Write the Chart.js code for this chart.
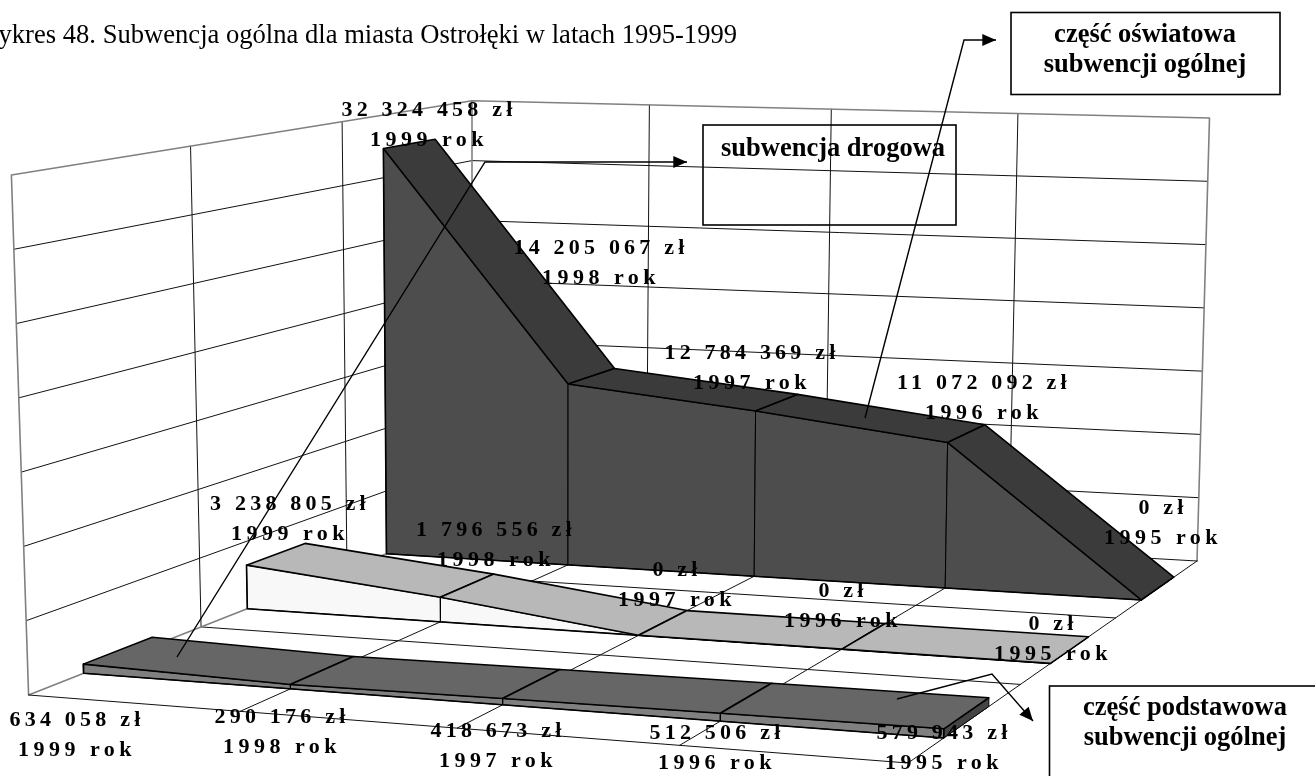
<!DOCTYPE html>
<html lang="pl">
<head>
<meta charset="utf-8">
<title>Subwencja ogólna</title>
<script src="https://cdn.jsdelivr.net/npm/chart.js@4"></script>
<style>
    html, body { margin: 0; padding: 0; background: #fff; overflow: hidden; }
    #wrap { position: relative; width: 1315px; height: 776px; }
</style>
</head>
<body>
<div id="wrap"><canvas id="chart"></canvas></div>
<script>
const years = ['1999', '1998', '1997', '1996', '1995'];
const oswiatowa = [32324458, 14205067, 12784369, 11072092, 0];
const podstawowa = [3238805, 1796556, 0, 0, 0];
const drogowa = [634058, 290176, 418673, 512506, 579943];
const zTicks = [0, 5000000, 10000000, 15000000, 20000000, 25000000, 30000000, 35000000];

// label anchors (centre, first baseline), one list per series
const oswiatowaLabels = [[429, 116], [601, 254], [752, 359], [984, 389], [1163, 514]];
const podstawowaLabels = [[290, 510], [496, 536], [677, 576], [843, 597], [1053, 630]];
const drogowaLabels = [[77, 726], [282, 723], [498, 737], [717, 739], [944, 739]];

// "camera": floor and ceiling corners of the 3D box
const floorBox = { fl: [28.6, 695], fr: [908, 763], br: [1197, 561], bl: [472, 520] };
const topBox = { fl: [11.4, 175], fr: [915, 195], br: [1209.5, 118], bl: [472, 100.7] };
const zMax = 35000000;

const lerp = (a, b, t) => [a[0] + (b[0] - a[0]) * t, a[1] + (b[1] - a[1]) * t];
// perspective foreshortening along each floor axis
const warp = (t, k) => k * t / (1 + (k - 1) * t);

function project(u, v, value) {
    const tu = warp(u, 0.95);
    const tv = warp(v, 1.273);
    const bottom = lerp(lerp(floorBox.fl, floorBox.fr, tu), lerp(floorBox.bl, floorBox.br, tu), tv);
    const top = lerp(lerp(topBox.fl, topBox.fr, tu), lerp(topBox.bl, topBox.br, tu), tv);
    const p = lerp(bottom, top, value / zMax);
    return { x: p[0], y: p[1] };
}

const datasets = [];

// the library paints lower "order" last, so later datasets go on top
function line(points, color, width) {
    datasets.push({
        data: points, showLine: true, pointRadius: 0, tension: 0, order: -datasets.length,
        borderColor: color, borderWidth: width, borderJoinStyle: 'round', borderCapStyle: 'round'
    });
}

function face(points, fill, color, width) {
    datasets.push({
        data: points.concat([points[0]]), showLine: true, pointRadius: 0, tension: 0, order: -datasets.length,
        borderColor: color, borderWidth: width, borderJoinStyle: 'round', faceColor: fill
    });
}

// walls and floor
const GRID = '#111';
const EDGE = '#808080';
const uTicks = years.map((y, i) => i / (years.length - 1));
const vTicks = [0, 1 / 3, 2 / 3, 1];

zTicks.slice(1, -1).forEach(z => {
    line([project(0, 0, z), project(0, 1, z)], GRID, 1);
    line([project(0, 1, z), project(1, 1, z)], GRID, 1);
});
vTicks.slice(1, -1).forEach(v => {
    line([project(0, v, 0), project(0, v, zMax)], GRID, 1);
    line([project(0, v, 0), project(1, v, 0)], GRID, 1);
});
uTicks.slice(1, -1).forEach(u => {
    line([project(u, 1, 0), project(u, 1, zMax)], GRID, 1);
    line([project(u, 0, 0), project(u, 1, 0)], GRID, 1);
});
line([project(1, 1, 0), project(1, 1, zMax), project(0, 1, zMax), project(0, 0, zMax), project(0, 0, 0), project(0, 1, 0)], EDGE, 1.6);
line([project(0, 1, 0), project(0, 1, zMax)], EDGE, 1.6);
line([project(0, 0, 0), project(1, 0, 0), project(1, 1, 0)], GRID, 1);
line([project(0, 1, 0), project(1, 1, 0)], GRID, 1);

// slabs, back to front
function slab(values, band, frontColor, topColor, sideColor) {
    const v0 = (band + 0.3) / 3;
    const v1 = (band + 0.7) / 3;
    const last = values.length - 1;
    for (let i = 0; i < last; i++) {
        face([project(uTicks[i], v0, 0), project(uTicks[i + 1], v0, 0), project(uTicks[i + 1], v0, values[i + 1]), project(uTicks[i], v0, values[i])], frontColor, '#000', 1);
    }
    face([project(1, v0, 0), project(1, v1, 0), project(1, v1, values[last]), project(1, v0, values[last])], sideColor, '#000', 1);
    line([project(0, v0, values[0]), project(0, v0, 0), project(1, v0, 0)], '#000', 1.6);
    for (let i = 0; i < last; i++) {
        face([project(uTicks[i], v0, values[i]), project(uTicks[i + 1], v0, values[i + 1]), project(uTicks[i + 1], v1, values[i + 1]), project(uTicks[i], v1, values[i])], topColor, '#000', 1.6);
    }
}
slab(oswiatowa, 2, '#4d4d4d', '#3b3b3b', '#3b3b3b');
slab(podstawowa, 1, '#f8f8f8', '#b8b8b8', '#b8b8b8');
slab(drogowa, 0, '#808080', '#666666', '#444444');

const SERIF = '"Liberation Serif", "Times New Roman", serif';

function kwota(n) {
    return String(n).replace(/\B(?=(\d{3})+$)/g, ' ') + ' zł';
}

function drawText(ctx, text, x, y, font, spacing, align) {
    ctx.font = font;
    ctx.letterSpacing = spacing;
    ctx.textAlign = align;
    ctx.textBaseline = 'alphabetic';
    ctx.fillStyle = '#000';
    ctx.fillText(text, x, y);
    ctx.letterSpacing = '0px';
}

function leader(ctx, pts) {
    ctx.strokeStyle = '#000';
    ctx.lineWidth = 1.4;
    ctx.beginPath();
    pts.forEach((p, i) => i ? ctx.lineTo(p[0], p[1]) : ctx.moveTo(p[0], p[1]));
    ctx.stroke();
    // arrow head on the last segment
    const a = pts[pts.length - 2];
    const b = pts[pts.length - 1];
    const ang = Math.atan2(b[1] - a[1], b[0] - a[0]);
    ctx.fillStyle = '#000';
    ctx.beginPath();
    ctx.moveTo(b[0], b[1]);
    ctx.lineTo(b[0] - 15 * Math.cos(ang - 0.42), b[1] - 15 * Math.sin(ang - 0.42));
    ctx.lineTo(b[0] - 15 * Math.cos(ang + 0.42), b[1] - 15 * Math.sin(ang + 0.42));
    ctx.closePath();
    ctx.fill();
}

function box(ctx, x, y, w, h) {
    ctx.strokeStyle = '#000';
    ctx.lineWidth = 1.6;
    ctx.strokeRect(x, y, w, h);
}

// fills the closed faces, the library strokes their outlines itself
const faceFill = {
    id: 'faceFill',
    beforeDatasetDraw(chart, args) {
        const ds = chart.data.datasets[args.index];
        if (!ds.faceColor) return;
        const ctx = chart.ctx;
        ctx.save();
        ctx.fillStyle = ds.faceColor;
        ctx.beginPath();
        args.meta.data.forEach((pt, i) => i ? ctx.lineTo(pt.x, pt.y) : ctx.moveTo(pt.x, pt.y));
        ctx.closePath();
        ctx.fill();
        ctx.restore();
    }
};

const annotations = {
    id: 'annotations',
    afterDraw(chart) {
        const ctx = chart.ctx;
        ctx.save();
        const labelFont = 'bold 22px ' + SERIF;
        [[oswiatowa, oswiatowaLabels], [podstawowa, podstawowaLabels], [drogowa, drogowaLabels]].forEach(([vals, places]) => {
            vals.forEach((val, i) => {
                drawText(ctx, kwota(val), places[i][0], places[i][1], labelFont, '4.2px', 'center');
                drawText(ctx, years[i] + ' rok', places[i][0], places[i][1] + 30, labelFont, '4.5px', 'center');
            });
        });

        drawText(ctx, 'Wykres 48. Subwencja ogólna dla miasta Ostrołęki w latach 1995-1999', -25, 43, '26.6px ' + SERIF, '0px', 'left');

        box(ctx, 1011, 12.5, 269, 82);
        box(ctx, 703, 125, 253, 100);
        box(ctx, 1049.5, 686, 300, 120);
        const boxFont = 'bold 26.5px ' + SERIF;
        drawText(ctx, 'część oświatowa', 1145, 42, boxFont, '0px', 'center');
        drawText(ctx, 'subwencji ogólnej', 1145, 72, boxFont, '0px', 'center');
        drawText(ctx, 'subwencja drogowa', 833, 156, boxFont, '0px', 'center');
        drawText(ctx, 'część podstawowa', 1185, 715, boxFont, '0px', 'center');
        drawText(ctx, 'subwencji ogólnej', 1185, 745, boxFont, '0px', 'center');

        leader(ctx, [[865, 418], [964, 40], [996, 40]]);
        leader(ctx, [[177, 657], [485, 162], [687, 162]]);
        leader(ctx, [[897, 699], [992, 674], [1033, 721]]);
        ctx.restore();
    }
};

new Chart(document.getElementById('chart'), {
    type: 'scatter',
    data: { datasets: datasets },
    options: {
        responsive: true,
        maintainAspectRatio: false,
        animation: false,
        events: [],
        layout: { padding: 0 },
        datasets: { scatter: { clip: false } },
        scales: {
            x: { type: 'linear', display: false, min: 0, max: 1315 },
            y: { type: 'linear', display: false, min: 0, max: 776, reverse: true }
        },
        plugins: { legend: { display: false }, tooltip: { enabled: false } }
    },
    plugins: [faceFill, annotations]
});
</script>
</body>
</html>
